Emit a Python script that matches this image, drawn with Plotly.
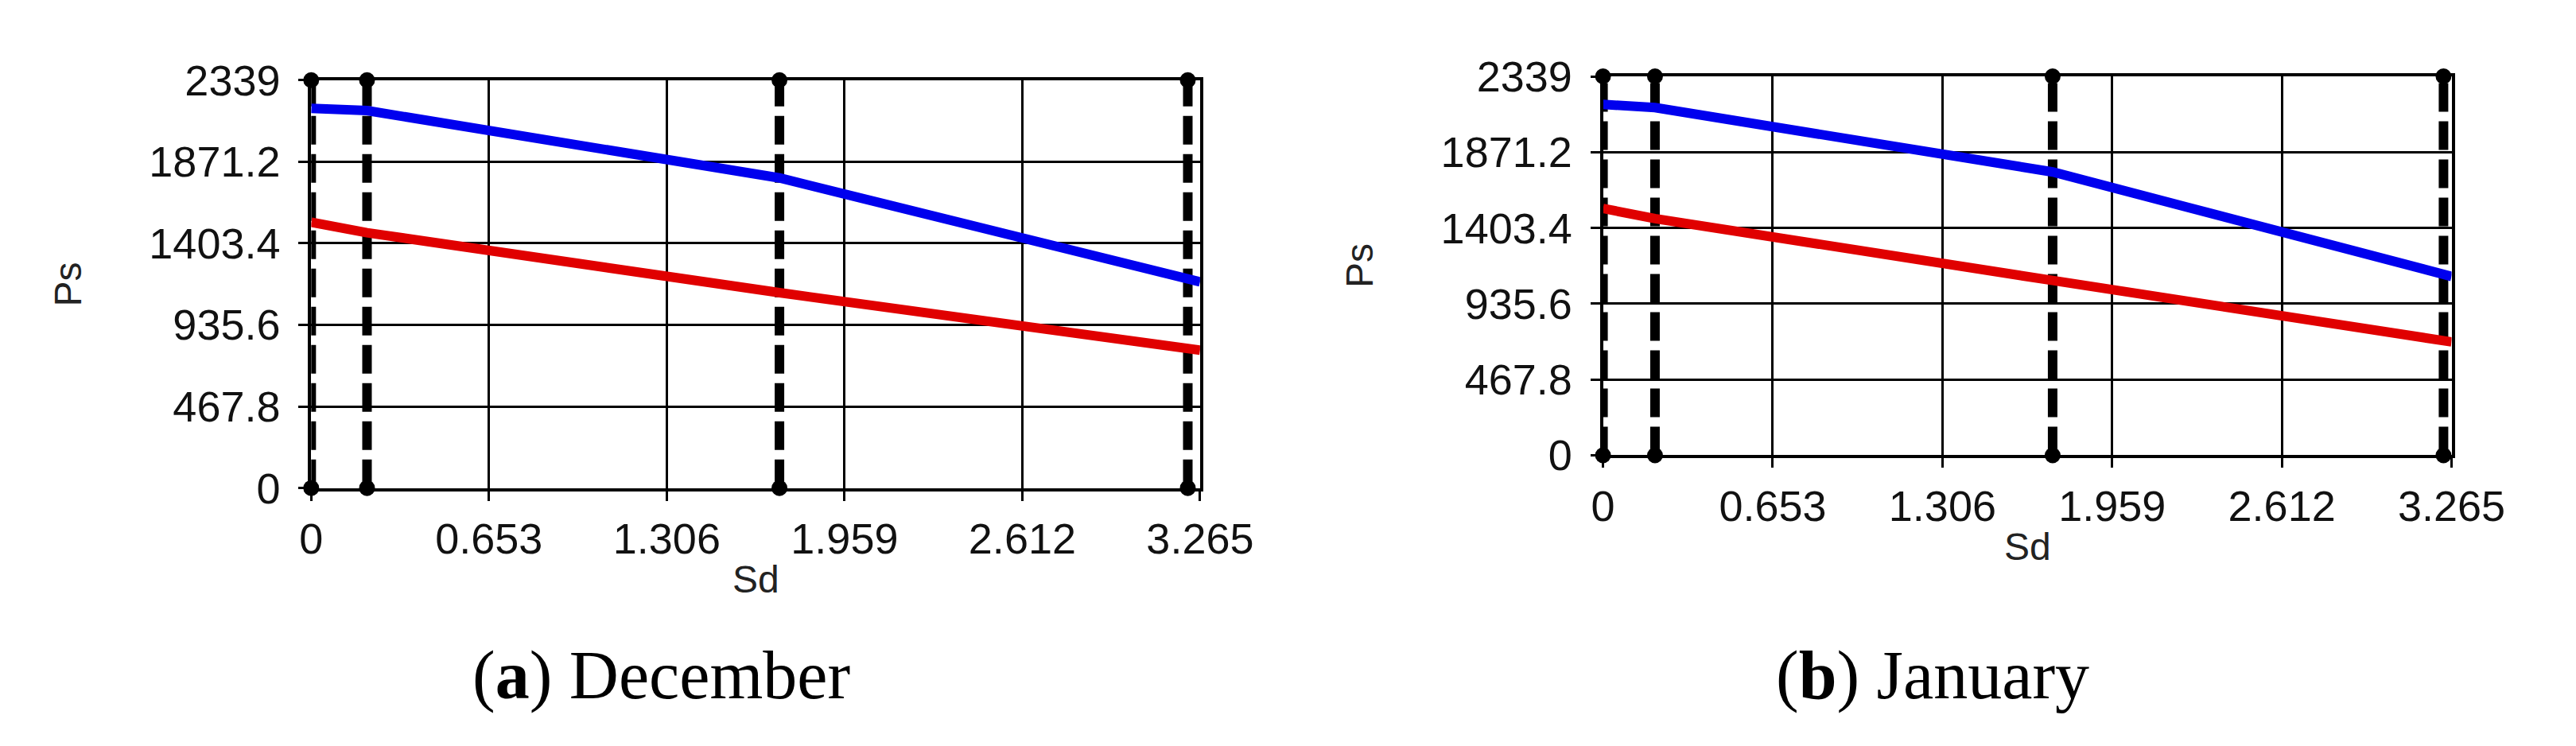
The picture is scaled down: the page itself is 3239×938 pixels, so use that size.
import plotly.graph_objects as go

W, H = 3239, 938

# Shared axes
y_ticks = [0, 467.8, 935.6, 1403.4, 1871.2, 2339]
y_ticktext = ['0', '467.8', '935.6', '1403.4', '1871.2', '2339']
x_ticks = [0, 0.653, 1.306, 1.959, 2.612, 3.265]
x_ticktext = ['0', '0.653', '1.306', '1.959', '2.612', '3.265']

# (a) December
dec_x = [0, 0.205, 1.72, 3.265]
dec_blue = [2177, 2164, 1778, 1182]
dec_red = [1524, 1464, 1120, 790]
dec_marks = [0, 0.205, 1.72, 3.22]

# (b) January
jan_x = [0, 0.2, 1.73, 3.265]
jan_blue = [2166, 2146, 1749, 1104]
jan_red = [1524, 1461, 1079, 700]
jan_marks = [0, 0.2, 1.73, 3.234]

captions = ['(<b>a</b>) December', '(<b>b</b>) January']

# plot boxes in pixels: left, right, top, bottom
boxes = [(378, 1525, 67, 615), (2045, 3140, 62, 571)]

SANS = 'Liberation Sans, Arial, sans-serif'
TICK_FONT = dict(family=SANS, size=54, color='#111')

fig = go.Figure()

panels = [(dec_x, dec_blue, dec_red, dec_marks), (jan_x, jan_blue, jan_red, jan_marks)]
for k, (xs, blue, red, marks) in enumerate(panels):
	xa = 'x' if k == 0 else 'x2'
	ya = 'y' if k == 0 else 'y2'
	# вертикальные пунктирные отметки
	for m in marks:
		fig.add_trace(go.Scatter(x=[m, m], y=[y_ticks[0], y_ticks[-1]], xaxis=xa, yaxis=ya,
								mode='lines+markers', cliponaxis=False, showlegend=False,
								line=dict(color='black', width=12, dash='36px,12px'),
								marker=dict(color='black', size=20)))
	fig.add_trace(go.Scatter(x=xs, y=red, xaxis=xa, yaxis=ya, mode='lines', showlegend=False,
							line=dict(color='#e00000', width=12)))
	fig.add_trace(go.Scatter(x=xs, y=blue, xaxis=xa, yaxis=ya, mode='lines', showlegend=False,
							line=dict(color='#0000ee', width=12)))

	l, r, t, b = boxes[k]
	sfx = '' if k == 0 else '2'
	fig.update_layout(**{
		'xaxis' + sfx: dict(domain=[l / W, r / W], range=[0, 3.265], anchor='y' + sfx,
							tickvals=x_ticks, ticktext=x_ticktext, tickfont=TICK_FONT,
							showgrid=True, gridcolor='black', gridwidth=3,
							showline=True, linecolor='black', linewidth=4, mirror=True,
							ticks='outside', ticklen=12, tickwidth=3, tickcolor='black',
							zeroline=False, ticklabelstandoff=2),
		'yaxis' + sfx: dict(domain=[1 - b / H, 1 - t / H], range=[0, 2339], anchor='x' + sfx,
							tickvals=y_ticks, ticktext=y_ticktext, tickfont=TICK_FONT,
							showgrid=True, gridcolor='black', gridwidth=3,
							showline=True, linecolor='black', linewidth=4, mirror=True,
							ticks='outside', ticklen=12, tickwidth=3, tickcolor='black',
							zeroline=False, ticklabelstandoff=12),
	})

	cx = (l + r) / 2
	# подписи осей
	fig.add_annotation(text='Sd', x=cx / W, y=1 - (b + 123) / H, xref='paper', yref='paper',
					   showarrow=False, xanchor='center', yanchor='middle',
					   font=dict(family=SANS, size=48, color='#222'))
	fig.add_annotation(text='Ps', x=(l - 314) / W, y=1 - (t + b) / 2 / H, xref='paper', yref='paper',
					   showarrow=False, xanchor='center', yanchor='middle', textangle=-90,
					   font=dict(family=SANS, size=48, color='#222'))
	# подпись под панелью
	fig.add_annotation(text=captions[k], x=(cx - 122) / W, y=1 - 866 / H, xref='paper', yref='paper',
					   showarrow=False, xanchor='center', yanchor='middle',
					   font=dict(family='Liberation Serif, Times New Roman, serif', size=86, color='black'))

fig.update_layout(width=W, height=H, margin=dict(l=0, r=0, t=0, b=0),
				  paper_bgcolor='white', plot_bgcolor='white')

fig.write_html('out.html')
